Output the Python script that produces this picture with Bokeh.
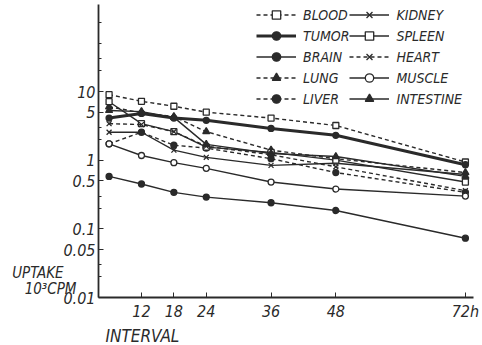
from bokeh.plotting import figure
from bokeh.models import FixedTicker, Legend, LegendItem, Title
from bokeh.embed import file_html
from bokeh.resources import INLINE

# ---- data (uptake, 10^3 CPM) ----
hours = [6, 12, 18, 24, 36, 48, 72]
blood = [9.0, 7.2, 6.1, 5.0, 4.1, 3.2, 0.94]
tumor = [4.1, 4.8, 4.1, 3.8, 2.9, 2.3, 0.86]
brain = [0.58, 0.45, 0.34, 0.29, 0.24, 0.185, 0.073]
lung = [6.0, 4.9, 4.3, 2.6, 1.4, 1.05, 0.66]
liver = [1.73, 2.55, 1.65, 1.5, 1.05, 0.66, 0.34]
kidney = [2.55, 2.55, 1.4, 1.1, 0.84, 0.9, 0.62]
spleen = [7.1, 3.4, 2.6, 1.55, 1.3, 1.0, 0.48]
heart = [3.4, 3.3, 2.6, 1.6, 1.2, 0.8, 0.36]
muscle = [1.73, 1.17, 0.92, 0.76, 0.48, 0.38, 0.30]
intestine = [5.3, 5.1, 4.2, 1.7, 1.25, 1.13, 0.58]

x_ticks = [12, 18, 24, 36, 48, 72]
x_tick_labels = ["12", "18", "24", "36", "48", "72h"]
y_ticks = [0.01, 0.05, 0.1, 0.5, 1, 5, 10]
y_tick_labels = ["0.01", "0.05", "0.1", "0.5", "1", "5", "10"]
y_minor = [0.02, 0.03, 0.2, 0.3, 2, 3, 20, 30, 50, 100]

INK = "#2a2a2a"
FONT = "DejaVu Sans Condensed, Roboto, sans-serif"
NB = "\u00a0"

p = figure(width=482, height=345, y_axis_type="log",
           x_range=(4.04, 73.5), y_range=(0.01, 185),
           output_backend="svg", toolbar_location=None,
           min_border_left=98, min_border_right=9,
           min_border_top=4, min_border_bottom=48)
p.grid.visible = False
p.outline_line_color = None
p.background_fill_color = "white"
p.border_fill_color = "white"

# axes
p.xaxis.ticker = FixedTicker(ticks=x_ticks, minor_ticks=[])
p.xaxis.major_label_overrides = {t: l for t, l in zip(x_ticks, x_tick_labels)}
p.yaxis.ticker = FixedTicker(ticks=y_ticks, minor_ticks=y_minor)
p.yaxis.major_label_overrides = {t: l for t, l in zip(y_ticks, y_tick_labels)}
for ax in (p.xaxis, p.yaxis):
    ax.axis_line_color = INK
    ax.axis_line_width = 1.8
    ax.major_tick_line_color = INK
    ax.major_tick_in = 5
    ax.major_tick_out = 0
    ax.minor_tick_line_color = INK
    ax.minor_tick_in = 3
    ax.minor_tick_out = 0
    ax.major_label_text_font = FONT
    ax.major_label_text_font_style = "italic"
    ax.major_label_text_font_size = "16px"
    ax.major_label_text_color = INK
p.xaxis.major_label_standoff = 4
p.yaxis.major_label_standoff = 3

# y axis title, horizontal, near the bottom of the axis
p.yaxis.axis_label = "UPTAKE" + NB * 3 + "\n10³CPM\n\n"
p.yaxis.axis_label_orientation = "horizontal"
p.yaxis.axis_label_align = "start"
p.yaxis.axis_label_standoff = -16
p.yaxis.axis_label_text_font = FONT
p.yaxis.axis_label_text_font_style = "italic"
p.yaxis.axis_label_text_font_size = "15px"
p.yaxis.axis_label_text_align = "right"
p.yaxis.axis_label_text_line_height = 0.9
p.yaxis.axis_label_text_color = INK

# x axis title, left aligned under the axis
p.add_layout(Title(text="INTERVAL", align="left", offset=7, standoff=0,
                   text_font=FONT, text_font_style="italic",
                   text_font_size="17px", text_color=INK), "below")

series = [
    ("BLOOD", blood, 1.4, "4 3", "square", False, 6),
    ("TUMOR", tumor, 3.0, "solid", "circle", True, 6),
    ("BRAIN", brain, 1.4, "solid", "circle", True, 6),
    ("LUNG", lung, 1.4, "4 3", "triangle", True, 7),
    ("LIVER", liver, 1.4, "4 3", "circle", True, 6),
    ("KIDNEY", kidney, 1.4, "solid", "x", False, 7),
    ("SPLEEN", spleen, 1.4, "solid", "square", False, 6),
    ("HEART", heart, 1.4, "4 3", "x", False, 7),
    ("MUSCLE", muscle, 1.4, "solid", "circle", False, 6),
    ("INTESTINE", intestine, 1.4, "solid", "triangle", True, 7),
]

items = []
for name, vals, lw, dash, marker, filled, size in series:
    lr = p.line(hours, vals, line_color=INK, line_width=lw, line_dash=dash)
    sr = p.scatter(hours, vals, marker=marker, size=size,
                   fill_color=INK if filled else "white",
                   line_color=INK, line_width=1.3)
    items.append(LegendItem(label=name, renderers=[lr, sr]))

legend = Legend(items=items, location=(158, 188), orientation="vertical",
                nrows=5, padding=0, margin=0, spacing=0,
                glyph_width=40, glyph_height=21, label_height=21,
                label_standoff=7, border_line_color=None,
                background_fill_alpha=0,
                label_text_font=FONT, label_text_font_style="italic",
                label_text_font_size="14px", label_text_color=INK)
p.add_layout(legend)

open("out.html", "w").write(file_html(p, INLINE))
